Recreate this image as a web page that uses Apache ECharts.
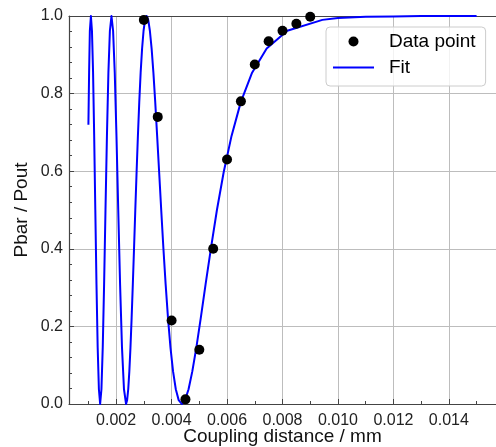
<!DOCTYPE html>
<html>
<head>
<meta charset="utf-8">
<script src="https://cdn.jsdelivr.net/npm/echarts@6/dist/echarts.min.js"></script>
<style>
  html, body { margin: 0; padding: 0; background: #ffffff; }
  #chart { width: 496px; height: 447px; }
</style>
</head>
<body>
<div id="chart"></div>
<script>
// Measured transmission ratio against coupling distance (mm)
const pointX = [0.0030, 0.0035, 0.0040, 0.0045, 0.0050, 0.0055, 0.0060, 0.0065, 0.0070, 0.0075, 0.0080, 0.0085, 0.0090];
const pointY = [0.990, 0.740, 0.215, 0.012, 0.140, 0.400, 0.630, 0.780, 0.875, 0.935, 0.962, 0.980, 0.998];

// Fitted curve, sampled along the oscillation
const fitX = [
  0.001000, 0.001025, 0.001052, 0.001090, 0.001128, 0.001168, 0.001208, 0.001249, 0.001291, 0.001334,
  0.001378, 0.001423, 0.001470, 0.001517, 0.001566, 0.001616, 0.001668, 0.001721, 0.001775, 0.001832,
  0.001890, 0.001950, 0.002012, 0.002076, 0.002142, 0.002211, 0.002283, 0.002358, 0.002396, 0.002436,
  0.002476, 0.002517, 0.002559, 0.002602, 0.002646, 0.002691, 0.002738, 0.002785, 0.002834, 0.002884,
  0.002936, 0.002989, 0.003043, 0.003099, 0.003158, 0.003217, 0.003280, 0.003344, 0.003410, 0.003479,
  0.003551, 0.003626, 0.003704, 0.003785, 0.003870, 0.003959, 0.004053, 0.004152, 0.004256, 0.004367,
  0.004485, 0.004612, 0.004747, 0.004894, 0.005053, 0.005227, 0.005420, 0.005635, 0.005880, 0.006162,
  0.006495, 0.006903, 0.007429, 0.008171, 0.009439, 0.010000, 0.011000, 0.012000, 0.013000, 0.015000
];
const fitY = [
  0.720, 0.855, 0.962, 1.000, 0.962, 0.854, 0.691, 0.500, 0.309, 0.146,
  0.038, 0.000, 0.038, 0.146, 0.309, 0.500, 0.691, 0.854, 0.962, 1.000,
  0.962, 0.854, 0.691, 0.500, 0.309, 0.146, 0.038, 0.000, 0.010, 0.038,
  0.084, 0.146, 0.222, 0.309, 0.402, 0.500, 0.598, 0.691, 0.778, 0.854,
  0.916, 0.962, 0.990, 1.000, 0.990, 0.962, 0.916, 0.854, 0.778, 0.691,
  0.598, 0.500, 0.402, 0.309, 0.222, 0.146, 0.084, 0.038, 0.010, 0.000,
  0.010, 0.038, 0.084, 0.146, 0.222, 0.309, 0.402, 0.500, 0.598, 0.691,
  0.778, 0.854, 0.916, 0.962, 0.990, 0.995, 0.998, 0.999, 1.000, 1.000
];

// Axis ticks
const xMajorTicks = [0.002, 0.004, 0.006, 0.008, 0.010, 0.012, 0.014];
const xMinorTicks = [0.001, 0.003, 0.005, 0.007, 0.009, 0.011, 0.013, 0.015];
const xRange = [0.0003, 0.0157];
const yRange = [0, 1];

const FONT = '"Liberation Sans", Arial, Helvetica, sans-serif';
const SPINE = '#444444';
const GRIDLINE = '#bdbdbd';

const zip = (xs, ys) => xs.map((x, i) => [x, ys[i]]);

const chart = echarts.init(document.getElementById('chart'), null, { renderer: 'canvas' });

chart.setOption({
  animation: false,
  backgroundColor: '#ffffff',
  textStyle: { fontFamily: FONT },
  grid: { left: 69, right: 0, top: 16, bottom: 43, containLabel: false, outerBoundsMode: 'none' },
  legend: {
    orient: 'vertical',
    left: 326,
    top: 27,
    padding: [5, 10, 9, 6],
    itemWidth: 41,
    itemHeight: 10,
    itemGap: 7,
    backgroundColor: 'rgba(255,255,255,0.8)',
    borderColor: '#cccccc',
    borderWidth: 1,
    borderRadius: 4,
    textStyle: { fontFamily: FONT, fontSize: 19, color: '#000000', padding: [0, 0, 0, 10] },
    data: [
      { name: 'Data point', icon: 'circle', itemStyle: { color: '#000000', opacity: 1 } },
      { name: 'Fit', itemStyle: { opacity: 0 }, lineStyle: { color: '#0000ff', width: 2 } }
    ]
  },
  xAxis: [
    {
      type: 'value',
      position: 'bottom',
      min: xRange[0],
      max: xRange[1],
      name: 'Coupling distance / mm',
      nameLocation: 'middle',
      nameGap: 23,
      nameMoveOverlap: false,
      nameTextStyle: { fontFamily: FONT, fontSize: 19, color: '#111111', verticalAlign: 'top' },
      axisLine: { show: true, onZero: false, lineStyle: { color: SPINE, width: 1.2 } },
      axisTick: { show: true, inside: true, length: 5, customValues: xMajorTicks, lineStyle: { color: SPINE } },
      axisLabel: {
        show: true, margin: 9, customValues: xMajorTicks,
        fontFamily: FONT, fontSize: 16, color: '#222222',
        formatter: v => v.toFixed(3)
      },
      splitLine: { show: true, lineStyle: { color: GRIDLINE, width: 1 } }
    },
    {
      // minor ticks along the bottom edge
      type: 'value',
      position: 'bottom',
      min: xRange[0],
      max: xRange[1],
      axisLine: { show: false },
      axisTick: { show: true, inside: true, length: 3, customValues: xMinorTicks, lineStyle: { color: SPINE } },
      axisLabel: { show: false },
      splitLine: { show: false }
    },
    {
      // top frame line
      type: 'value',
      position: 'top',
      min: xRange[0],
      max: xRange[1],
      axisLine: { show: true, onZero: false, lineStyle: { color: SPINE, width: 1.2 } },
      axisTick: { show: false },
      axisLabel: { show: false },
      splitLine: { show: false }
    }
  ],
  yAxis: {
    type: 'value',
    position: 'left',
    min: yRange[0],
    max: yRange[1],
    interval: 0.2,
    name: 'Pbar / Pout',
    nameLocation: 'middle',
    nameGap: 38,
    nameMoveOverlap: false,
    nameTextStyle: { fontFamily: FONT, fontSize: 19, color: '#111111' },
    axisLine: { show: true, onZero: false, lineStyle: { color: SPINE, width: 1.2 } },
    axisTick: { show: true, inside: true, length: 5, lineStyle: { color: SPINE } },
    minorTick: { show: true, splitNumber: 5, length: 3, lineStyle: { color: SPINE } },
    axisLabel: { margin: 6, fontFamily: FONT, fontSize: 16, color: '#222222', formatter: v => v.toFixed(1) },
    splitLine: { show: true, lineStyle: { color: GRIDLINE, width: 1 } },
    minorSplitLine: { show: false }
  },
  series: [
    {
      name: 'Fit',
      type: 'line',
      xAxisIndex: 0,
      data: zip(fitX, fitY),
      showSymbol: false,
      symbol: 'none',
      smooth: false,
      clip: true,
      lineStyle: { color: '#0000ff', width: 2, join: 'round' },
      itemStyle: { color: '#0000ff' },
      z: 3
    },
    {
      name: 'Data point',
      type: 'scatter',
      xAxisIndex: 0,
      data: zip(pointX, pointY),
      symbol: 'circle',
      symbolSize: 10,
      itemStyle: { color: '#000000', opacity: 1 },
      z: 4
    }
  ]
});
</script>
</body>
</html>
